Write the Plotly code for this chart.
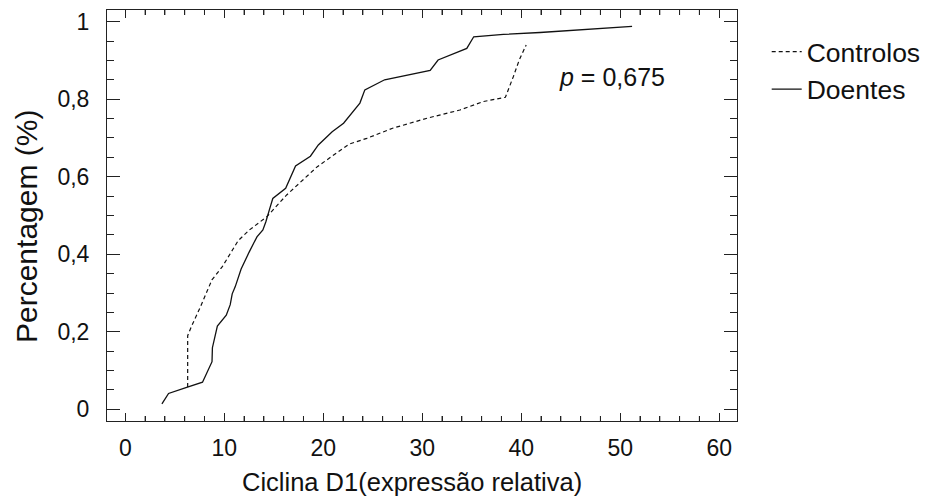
import plotly.graph_objects as go

# Doentes (solid)
doentes_x = [3.7, 4.37, 6.2, 7.8, 8.76, 8.8, 9.3, 10.2, 10.6, 10.8, 11.1, 11.7, 12.5, 12.8, 13.3, 13.9,
             14.2, 14.65, 14.9, 16.2, 17.2, 18.7, 19.5, 20.9, 22.05, 23.7, 24.2, 26.2, 28.8, 30.8,
             31.6, 34.5, 35.2, 38.2, 41.9, 51.2]
doentes_y = [0.014, 0.041, 0.057, 0.07, 0.123, 0.159, 0.215, 0.243, 0.27, 0.298, 0.316, 0.362, 0.405, 0.42,
             0.445, 0.463, 0.484, 0.523, 0.544, 0.57, 0.628, 0.653, 0.682, 0.716, 0.738, 0.79, 0.824,
             0.85, 0.863, 0.874, 0.901, 0.931, 0.961, 0.967, 0.972, 0.988]

# Controlos (dashed)
controlos_x = [6.3, 6.3, 6.7, 7.6, 8.75, 9.8, 11.4, 12.55, 14.3, 16.3, 19.4, 22.6, 24.4, 27.0, 30.5,
               33.8, 36.2, 38.4, 39.2, 39.8, 40.5]
controlos_y = [0.058, 0.19, 0.215, 0.265, 0.334, 0.368, 0.435, 0.463, 0.497, 0.553, 0.626, 0.684, 0.699,
               0.725, 0.751, 0.772, 0.794, 0.805, 0.858, 0.901, 0.94]

# minor x tick positions (every 2 units, between the labelled ticks)
x_minor_ticks = [v for v in range(0, 61, 2) if v % 10 != 0]

x_title = "Ciclina D1(expressão relativa)"
y_title = "Percentagem (%)"
p_text = "<i>p</i> = 0,675"

X_RANGE = [-1.85, 61.8]
Y_RANGE = [-0.03, 1.03]

FONT = "Liberation Sans, Arial, sans-serif"
AX = "#222222"
PLOT_H = 499 - 10 - 78
MINOR_X_LEN = 5 / PLOT_H

fig = go.Figure()
fig.add_trace(go.Scatter(x=controlos_x, y=controlos_y, mode="lines", name="Controlos",
                         line=dict(color="#111111", width=1.2, dash="4px,3px")))
fig.add_trace(go.Scatter(x=doentes_x, y=doentes_y, mode="lines", name="Doentes",
                         line=dict(color="#111111", width=1.3)))
# empty helper so that the minor-tick y overlay axis gets drawn (no marks)
fig.add_trace(go.Scatter(x=[], y=[], xaxis="x", yaxis="y2", showlegend=False, hoverinfo="skip"))

common = dict(showgrid=False, zeroline=False, tickwidth=1, tickcolor=AX,
              showline=True, linecolor=AX, linewidth=1, mirror="ticks", ticks="inside")

# minor x tick marks, bottom and top (mirrored)
shapes = []
for v in x_minor_ticks:
    shapes.append(dict(type="line", xref="x", yref="y domain", x0=v, x1=v, y0=0, y1=MINOR_X_LEN,
                       line=dict(color=AX, width=1), layer="above"))
    shapes.append(dict(type="line", xref="x", yref="y domain", x0=v, x1=v, y0=1, y1=1 - MINOR_X_LEN,
                       line=dict(color=AX, width=1), layer="above"))

fig.update_layout(
    width=929, height=499,
    margin=dict(l=107, r=192, t=10, b=78),
    paper_bgcolor="white", plot_bgcolor="white",
    font=dict(family=FONT, size=23, color="#111111"),
    separators=",.",
    showlegend=True,
    legend=dict(xref="container", yref="container", x=0.8253, y=0.944,
                xanchor="left", yanchor="top",
                font=dict(size=26.5), bgcolor="rgba(0,0,0,0)", itemwidth=30),
    xaxis=dict(range=X_RANGE, tick0=0, dtick=10, ticklen=8, tickfont=dict(size=23),
               ticklabelstandoff=6,
               minor=dict(tick0=0, dtick=2, ticks="inside", ticklen=5, tickwidth=1,
                          tickcolor=AX, showgrid=False),
               **common),
    yaxis=dict(range=Y_RANGE, tick0=0, dtick=0.2, ticklen=13, tickfont=dict(size=23),
               ticklabelstandoff=12, **common),
    yaxis2=dict(range=Y_RANGE, overlaying="y", anchor="x", side="left", tick0=0, dtick=0.05,
                ticklen=7, showticklabels=False, **common),
    shapes=shapes,
    annotations=[
        dict(text=p_text, xref="paper", yref="paper", x=0.714, y=0.837,
             xanchor="left", yanchor="middle", showarrow=False, font=dict(size=25)),
        dict(text=x_title, xref="paper", yref="paper", x=(411.5 - 107) / 630, y=-(482 - 421) / 411,
             xanchor="center", yanchor="middle", showarrow=False, font=dict(size=25.5)),
        dict(text=y_title, xref="paper", yref="paper", x=-(107 - 26) / 630, y=1 - (227 - 10) / 411,
             xanchor="center", yanchor="middle", showarrow=False, textangle=-90, font=dict(size=30)),
    ],
)

fig.write_html("out.html")
